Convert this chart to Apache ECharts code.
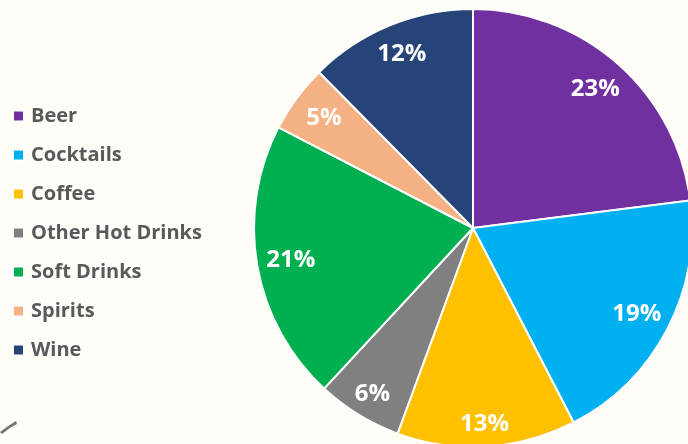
<!DOCTYPE html>
<html><head><meta charset="utf-8">
<script src="https://cdn.jsdelivr.net/npm/echarts@6/dist/echarts.min.js"></script>
<style>html,body{margin:0;padding:0;background:#fffdf8}#c{width:688px;height:444px}</style>
</head><body><div id="c"></div>
<script>
const categories = ['Beer','Cocktails','Coffee','Other Hot Drinks','Soft Drinks','Spirits','Wine'];
const shares = [23.0, 19.4, 13.2, 6.3, 20.7, 5.0, 12.4];
const colors = ['#7030A0','#00B0F0','#FFC000','#808080','#00B050','#F4B183','#264478'];

// small label nudges (style only) to mimic best-fit placement
const labelNudge = {'Coffee':[0,12], 'Other Hot Drinks':[-4,8], 'Wine':[-1,-3]};

const data = categories.map((n,i)=>({name:n, value:shares[i]}));
const labelData = categories.map((n,i)=>{
  const d = {name:n, value:shares[i]};
  if (labelNudge[n]) d.label = {offset: labelNudge[n]};
  return d;
});
const chart = echarts.init(document.getElementById('c'), null, {renderer:'canvas'});
chart.setOption({
  backgroundColor:'#fffdf8',
  color: colors,
  animation:false,
  legend:{
    orient:'vertical', left:7, top:101,
    icon:'rect', itemWidth:11, itemHeight:11, itemGap:19,
    textStyle:{fontFamily:'Open Sans', fontWeight:'bold', fontSize:20, lineHeight:20, color:'#595959', padding:[0,0,0,2]},
    data: categories
  },
  graphic:[{type:'polygon', silent:true, shape:{points:[[0,432],[8,426],[16,421],[17,424],[10,428],[2,434]]}, style:{fill:'#777'}}],
  series:[
    {type:'pie', center:[473,228], radius:[0,219], startAngle:90, clockwise:true,
     data:data, label:{show:false}, labelLine:{show:false},
     itemStyle:{borderColor:'#ffffff', borderWidth:2}, emphasis:{disabled:true}},
    {type:'pie', center:[473,228], radius:[145,219], startAngle:90, clockwise:true, silent:true,
     data:labelData, itemStyle:{color:'rgba(0,0,0,0)'}, labelLine:{show:false},
     label:{show:true, position:'inside', color:'#ffffff', fontFamily:'Open Sans', fontWeight:'bold', fontSize:24,
       formatter:p=>Math.round(p.value)+'%'}, emphasis:{disabled:true}}
  ]
});
</script></body></html>
